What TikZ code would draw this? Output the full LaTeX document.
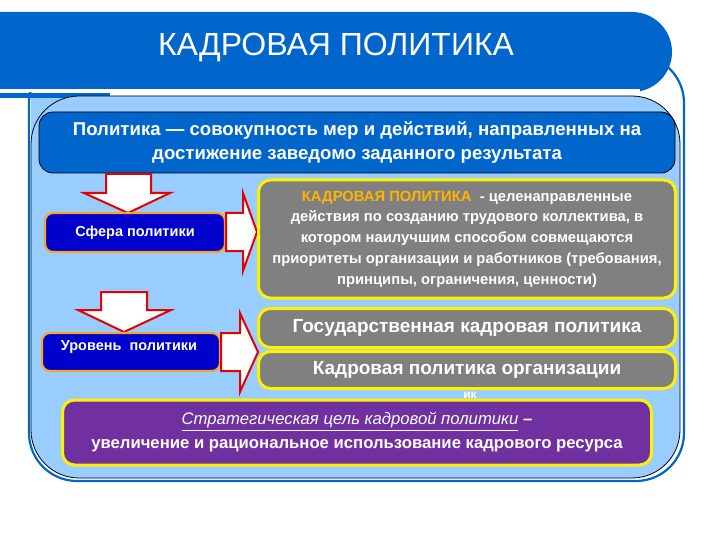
\documentclass[tikz,border=0pt]{standalone}
\usepackage{fontspec}
\setmainfont{Liberation Sans}
\definecolor{hdrblue}{RGB}{0,102,204}
\definecolor{panelblue}{RGB}{153,204,255}
\definecolor{navy}{RGB}{0,0,204}
\definecolor{orangeb}{RGB}{250,165,40}
\definecolor{grayb}{RGB}{128,128,128}
\definecolor{purpleb}{RGB}{112,48,160}
\definecolor{goldt}{RGB}{255,180,0}
\definecolor{arrred}{RGB}{230,0,0}
\tikzset{
  navybox/.style={fill=navy, draw=orangeb, line width=2.2pt, rounded corners=8pt, text=white,
    font=\bfseries\fontsize{14.5}{17}\selectfont, inner sep=0pt},
  graybox/.style={fill=grayb, draw=yellow, line width=3pt, rounded corners=12pt, text=white, inner sep=0pt},
  blockarrow/.style={fill=white, draw=arrred, line width=2pt, line join=miter},
}
\begin{document}
\begin{tikzpicture}[x=1pt,y=-1pt]
\useasboundingbox (0,0) rectangle (720,540);
% outer frame
\draw[hdrblue, line width=2.2pt, fill=white, rounded corners=48pt] (29,55) rectangle (684,481);
\fill[hdrblue] (0,93) rectangle (110,98);
\fill[panelblue] (31,98) rectangle (110,160);
\draw[black, line width=0.8pt, fill=panelblue, rounded corners=48pt] (31,96) rectangle (680,478);
% header
\fill[hdrblue] (0,12) [rounded corners=40pt] -- (672,12) -- (672,92) [sharp corners] -- (0,92) -- cycle;
\fill[white] (0,89.5) rectangle (640,92.5);
\node[text=white, font=\fontsize{32}{36}\selectfont] (title) at (336,48) {КАДРОВАЯ ПОЛИТИКА};
% top definition box
\node[fill=hdrblue, draw=black, line width=0.8pt, rounded corners=14pt, minimum width=636pt, minimum height=61pt,
  text=white, align=center, font=\bfseries\fontsize{18.6}{24}\selectfont] (def) at (357,142.5)
  {Политика — совокупность мер и действий, направленных на\\достижение заведомо заданного результата};
% down arrow 1
\draw[blockarrow] (106,174) -- (151,174) -- (151,193) -- (170,193) -- (128,213) -- (84,193) -- (106,193) -- cycle;
% sphere box
\node[navybox, minimum width=180pt, minimum height=39pt] (sphere) at (135,232.5) {Сфера политики};
% down arrow 2
\draw[blockarrow] (101,292) -- (147,292) -- (147,310) -- (171,310) -- (124,332) -- (78,310) -- (101,310) -- cycle;
% level box
\node[navybox, minimum width=178pt, minimum height=38pt] (level) at (131,352) {};
\node[text=white, font=\bfseries\fontsize{14.5}{17}\selectfont] (leveltxt) at (129,347) {Уровень\ \ политики};
% right arrows
\draw[blockarrow] (226,213) -- (243,213) -- (243,193) -- (257,232) -- (243,271) -- (243,251) -- (226,251) -- cycle;
\draw[blockarrow] (221,333) -- (240,333) -- (240,313) -- (258,352) -- (240,392) -- (240,371) -- (221,371) -- cycle;
% gray definition box
\node[graybox, minimum width=417pt, minimum height=118pt, align=center,
  font=\bfseries\fontsize{14.8}{20.7}\selectfont] (kp) at (467,239)
  {\textcolor{goldt}{КАДРОВАЯ ПОЛИТИКА} \ - целенаправленные\\
   действия по созданию трудового коллектива, в\\
   котором наилучшим способом совмещаются\\
   приоритеты организации и работников (требования,\\
   принципы, ограничения, ценности)};
% remnant text
\node[text=white, font=\bfseries\fontsize{12}{14}\selectfont] (ik) at (470,395) {ик};
% level boxes
\node[graybox, minimum width=417pt, minimum height=39pt, font=\bfseries\fontsize{19}{22}\selectfont] (gos) at (467,328) {Государственная кадровая политика};
\node[graybox, minimum width=417pt, minimum height=37pt, font=\bfseries\fontsize{19}{22}\selectfont] (org) at (467,370) {Кадровая политика организации};
% purple goal box
\node[fill=purpleb, draw=yellow, line width=3pt, rounded corners=12pt, minimum width=589pt, minimum height=65pt,
  text=white, align=center, inner sep=0pt, font=\bfseries\fontsize{16.7}{24}\selectfont] (goal) at (357,432.5)
  {{\mdseries\itshape\underline{Стратегическая цель кадровой политики}} –\\увеличение и рациональное использование кадрового ресурса};
\end{tikzpicture}
\end{document}
